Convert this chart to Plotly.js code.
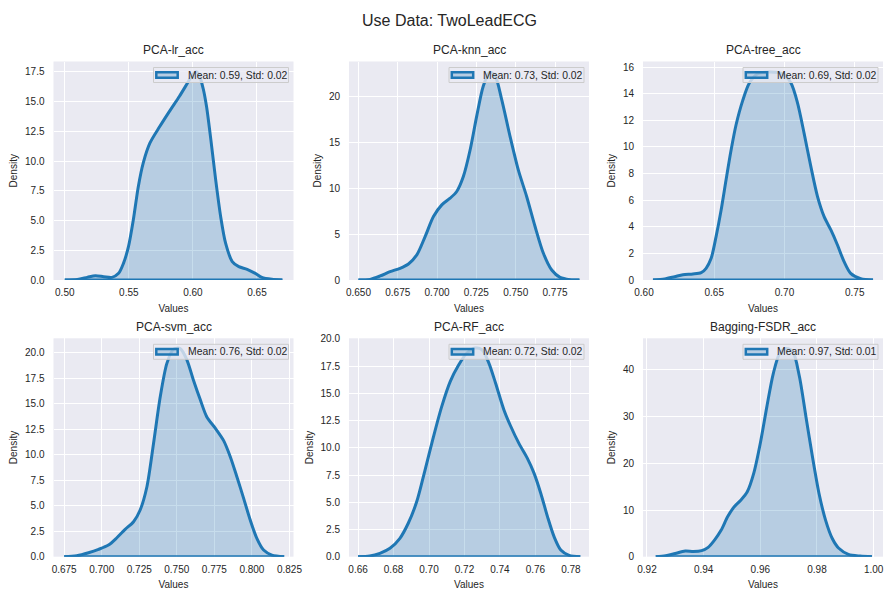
<!DOCTYPE html>
<html>
<head>
<meta charset="utf-8">
<script src="https://cdn.plot.ly/plotly-3.0.1.min.js"></script>
<style>html,body{margin:0;padding:0;background:#fff;}#chart{width:884px;height:590px;}</style>
</head>
<body>
<div id="chart"></div>
<script>
// ---------- data ----------
const suptitle = 'Use Data: TwoLeadECG';
const panelTitles = ['PCA-lr_acc', 'PCA-knn_acc', 'PCA-tree_acc', 'PCA-svm_acc', 'PCA-RF_acc', 'Bagging-FSDR_acc'];
const legendLabels = ['Mean: 0.59, Std: 0.02', 'Mean: 0.73, Std: 0.02', 'Mean: 0.69, Std: 0.02',
                      'Mean: 0.76, Std: 0.02', 'Mean: 0.72, Std: 0.02', 'Mean: 0.97, Std: 0.01'];

const lrX = [0.500,0.5098,0.5175,0.5239,0.5304,0.5368,0.542,0.5458,0.5497,0.5535,0.5574,0.5612,0.5664,0.5741,0.5818,0.5895,0.5960,0.6000,0.6025,0.6050,0.6080,0.6106,0.614,0.6178,0.6217,0.6255,0.6307,0.6358,0.6423,0.6487,0.6538,0.6616,0.6698];
const lrY = [0,0.05,0.22,0.36,0.28,0.22,0.56,1.4,2.8,5.06,7.87,9.83,11.5,12.9,14.2,15.45,16.6,17.3,17.5,17.2,16.1,14.6,11.8,8.4,5.3,3.1,1.55,1.12,0.9,0.56,0.22,0.06,0];

const knnX = [0.650,0.6574,0.6638,0.6701,0.6765,0.6818,0.6871,0.6924,0.6977,0.703,0.7083,0.7125,0.7167,0.721,0.7252,0.7294,0.7335,0.7369,0.7411,0.7464,0.7517,0.757,0.7623,0.7676,0.7729,0.7782,0.7845,0.7905];
const knnY = [0,0.07,0.44,0.91,1.28,1.75,2.74,4.74,6.93,8.21,8.94,9.67,11.3,14.2,17.9,21.2,22.7,22.3,19.7,15.7,12.0,9.1,5.84,2.92,1.09,0.29,0.04,0];

const treeX = [0.6064,0.6147,0.6218,0.6277,0.6348,0.6407,0.6442,0.6478,0.6513,0.6549,0.6584,0.662,0.6655,0.6703,0.675,0.6809,0.6892,0.6987,0.7046,0.7093,0.714,0.7188,0.7235,0.7282,0.733,0.7377,0.7424,0.7471,0.7542,0.763];
const treeY = [0,0.08,0.25,0.40,0.45,0.55,0.88,1.63,3.26,5.26,7.52,9.77,11.65,13.5,14.8,15.5,15.64,15.5,14.8,13.3,11.0,8.5,6.27,4.76,3.76,2.63,1.38,0.5,0.1,0];

const svmX = [0.675,0.6834,0.6912,0.6979,0.7045,0.7101,0.7156,0.7212,0.7256,0.7301,0.7345,0.739,0.7434,0.7478,0.7523,0.7567,0.7611,0.7656,0.77,0.7756,0.7811,0.7856,0.79,0.7945,0.7989,0.8033,0.8078,0.8133,0.8215];
const svmY = [0,0.1,0.39,0.72,1.14,1.86,2.68,3.43,4.58,6.86,11.1,15.7,18.95,20.35,20.4,19.3,17.3,15.4,13.7,12.6,11.4,9.8,7.84,5.72,3.59,1.8,0.65,0.16,0];

const rfX = [0.66,0.6666,0.6723,0.678,0.6836,0.6883,0.6931,0.6978,0.7025,0.7072,0.712,0.7167,0.7214,0.7261,0.7299,0.7337,0.7375,0.7422,0.746,0.7507,0.7554,0.7592,0.763,0.7668,0.7705,0.7743,0.779,0.7853];
const rfY = [0,0.06,0.31,0.77,1.69,3.07,5.06,7.98,11.0,13.8,16.1,17.6,18.7,19.15,19.0,17.8,15.95,13.5,12.0,10.4,9.05,7.67,5.83,3.68,1.84,0.61,0.12,0];

const fsdrX = [0.9231,0.9266,0.93,0.9335,0.9364,0.9393,0.9416,0.9439,0.9462,0.9485,0.9508,0.9531,0.9554,0.9577,0.96,0.9623,0.9646,0.9669,0.9692,0.9715,0.9738,0.9761,0.9784,0.9807,0.983,0.9854,0.9877,0.9911,0.9952,0.9994];
const fsdrY = [0,0.2,0.7,1.2,1.1,1.3,2.0,3.6,5.7,8.6,10.7,12.1,13.9,17.9,24.3,32.1,39.3,43.6,44.6,43.9,38.6,30.0,21.4,13.6,7.9,3.9,1.8,0.5,0.14,0];

// tick values
const lrXTicks = [0.50,0.55,0.60,0.65];
const lrYTicks = [0,2.5,5,7.5,10,12.5,15,17.5];
const knnXTicks = [0.650,0.675,0.700,0.725,0.750,0.775];
const knnYTicks = [0,5,10,15,20];
const treeXTicks = [0.60,0.65,0.70,0.75];
const treeYTicks = [0,2,4,6,8,10,12,14,16];
const svmXTicks = [0.675,0.700,0.725,0.750,0.775,0.800,0.825];
const svmYTicks = [0,2.5,5,7.5,10,12.5,15,17.5,20];
const rfXTicks = [0.66,0.68,0.70,0.72,0.74,0.76,0.78];
const rfYTicks = [0,2.5,5,7.5,10,12.5,15,17.5,20];
const fsdrXTicks = [0.92,0.94,0.96,0.98,1.00];
const fsdrYTicks = [0,10,20,30,40];

// ---------- layout configuration ----------
const W = 884, H = 590;
const colPx = [[53.5, 293.5], [349, 589], [643, 883]];
const rowPx = [[61.5, 280], [338.3, 556.7]];

const panels = [
  {x: lrX,   y: lrY,   xt: lrXTicks,   yt: lrYTicks,   xf: '.2f', yf: '.1f', xr: [0.4912, 0.6785], yr: [0, 18.37]},
  {x: knnX,  y: knnY,  xt: knnXTicks,  yt: knnYTicks,  xf: '.3f', yf: 'd',   xr: [0.6440, 0.7966], yr: [0, 23.87]},
  {x: treeX, y: treeY, xt: treeXTicks, yt: treeYTicks, xf: '.2f', yf: 'd',   xr: [0.5993, 0.7701], yr: [0, 16.42]},
  {x: svmX,  y: svmY,  xt: svmXTicks,  yt: svmYTicks,  xf: '.3f', yf: '.1f', xr: [0.6679, 0.8277], yr: [0, 21.41]},
  {x: rfX,   y: rfY,   xt: rfXTicks,   yt: rfYTicks,   xf: '.2f', yf: '.1f', xr: [0.6549, 0.7902], yr: [0, 20.05]},
  {x: fsdrX, y: fsdrY, xt: fsdrXTicks, yt: fsdrYTicks, xf: '.2f', yf: 'd',   xr: [0.9186, 1.0033], yr: [0, 46.79]}
];

const BLUE = '#1f77b4';
const FILL = 'rgba(31,119,180,0.25)';
const TXT = '#262626';
const FONT = 'Liberation Sans, Arial, sans-serif';

const traces = [];
const layout = {
  width: W, height: H,
  margin: {l: 0, r: 0, t: 0, b: 0},
  paper_bgcolor: '#ffffff',
  plot_bgcolor: '#EAEAF2',
  font: {family: FONT, color: TXT, size: 10},
  title: {text: suptitle, x: 449.5 / W, xanchor: 'center', y: 1 - 20 / H, yanchor: 'middle', yref: 'container',
          font: {family: FONT, size: 16, color: TXT}},
  annotations: [],
  shapes: [],
  showlegend: false,
  hovermode: false
};

const px = v => v / W;
const py = v => 1 - v / H;

panels.forEach((p, i) => {
  const s = i === 0 ? '' : String(i + 1);
  const col = i % 3, row = Math.floor(i / 3);
  const xd = [px(colPx[col][0]), px(colPx[col][1])];
  const yd = [py(rowPx[row][1]), py(rowPx[row][0])];

  traces.push({
    type: 'scatter', x: p.x, y: p.y, xaxis: 'x' + s, yaxis: 'y' + s, name: legendLabels[i],
    mode: 'lines', line: {color: BLUE, width: 3, shape: 'spline', smoothing: 0.8},
    fill: 'tozeroy', fillcolor: FILL, hoverinfo: 'skip'
  });
  traces.push({
    type: 'scatter', x: [p.x[0], p.x[p.x.length - 1]], y: [p.y[0], p.y[p.y.length - 1]],
    xaxis: 'x' + s, yaxis: 'y' + s, mode: 'lines', line: {color: BLUE, width: 3}, hoverinfo: 'skip'
  });

  layout['xaxis' + s] = {
    domain: xd, anchor: 'y' + s, range: p.xr, tickvals: p.xt, tickformat: p.xf,
    showgrid: true, gridcolor: '#ffffff', gridwidth: 1, zeroline: false, showline: false, ticks: '',
    tickfont: {size: 10, color: TXT}, ticklabelstandoff: 5, ticklabeloverflow: 'allow',
    title: {text: 'Values', font: {size: 10, color: TXT}, standoff: 7}
  };
  layout['yaxis' + s] = {
    domain: yd, anchor: 'x' + s, range: p.yr, tickvals: p.yt, tickformat: p.yf,
    showgrid: true, gridcolor: '#ffffff', gridwidth: 1, zeroline: false, showline: false, ticks: '',
    tickfont: {size: 10, color: TXT}, ticklabelstandoff: 8,
    title: {text: 'Density', font: {size: 10, color: TXT}, standoff: 5}
  };

  // panel title
  layout.annotations.push({
    text: panelTitles[i], xref: 'paper', yref: 'paper',
    x: (xd[0] + xd[1]) / 2, xanchor: 'center',
    y: py(rowPx[row][0] - 11.5), yanchor: 'middle',
    showarrow: false, font: {family: FONT, size: 12, color: TXT}
  });

  // legend box (upper right of each panel)
  const R = colPx[col][1] - 5, L = R - 135, T = rowPx[row][0] + 6, B = T + 15;
  layout.shapes.push({
    type: 'rect', xref: 'paper', yref: 'paper', layer: 'above',
    x0: px(L), x1: px(R), y0: py(B), y1: py(T),
    fillcolor: 'rgba(234,234,242,0.8)', line: {color: '#cccccc', width: 1}
  });
  layout.shapes.push({
    type: 'rect', xref: 'paper', yref: 'paper', layer: 'above',
    x0: px(L + 2.8), x1: px(L + 24.2), y0: py(T + 10.3), y1: py(T + 4.8),
    fillcolor: FILL, line: {color: BLUE, width: 2.5}
  });
  layout.annotations.push({
    text: legendLabels[i], xref: 'paper', yref: 'paper',
    x: px(L + 32), xanchor: 'left', y: py(T + 7.5), yanchor: 'middle',
    showarrow: false, font: {family: FONT, size: 10.4, color: TXT}
  });
});

Plotly.newPlot('chart', traces, layout, {displayModeBar: false, staticPlot: true});
</script>
</body>
</html>
